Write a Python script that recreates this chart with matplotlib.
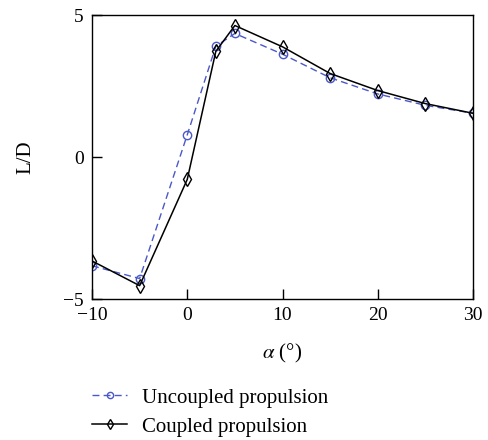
import matplotlib
matplotlib.use("Agg")
import matplotlib.pyplot as plt

# Angle of attack (deg) and lift-to-drag ratio
alpha = [-10, -5, 0, 3, 5, 10, 15, 20, 25, 30]
ld_uncoupled = [-3.83, -4.28, 0.78, 3.90, 4.35, 3.62, 2.79, 2.22, 1.82, 1.54]
ld_coupled = [-3.66, -4.53, -0.79, 3.72, 4.63, 3.88, 2.94, 2.34, 1.88, 1.54]

x_ticks = [-10, 0, 10, 20, 30]
y_ticks = [-5, 0, 5]

plt.rcParams["font.family"] = ["Liberation Serif", "DejaVu Serif"]
plt.rcParams["mathtext.fontset"] = "stix"
FS = 14

fig = plt.figure(figsize=(4.89, 4.40), dpi=100)
ax = fig.add_axes([92 / 489, 1 - 299 / 440, 381 / 489, 284 / 440])

blue = "#4a58c8"
ax.plot(alpha, ld_uncoupled, color=blue, linestyle=(0, (5, 3)), linewidth=1.0,
        marker="o", markersize=6, markerfacecolor="none", markeredgecolor=blue,
        markeredgewidth=1.0, label="Uncoupled propulsion")
ax.plot(alpha, ld_coupled, color="black", linestyle="-", linewidth=1.1,
        marker="d", markersize=7, markerfacecolor="none", markeredgecolor="black",
        markeredgewidth=1.0, label="Coupled propulsion")

ax.set_xlim(-10, 30)
ax.set_ylim(-5, 5)
ax.set_xticks(x_ticks)
ax.set_yticks(y_ticks)
ax.set_xticklabels(["\u221210", "0", "10", "20", "30"])
ax.set_yticklabels(["\u22125", "0", "5"])
ax.tick_params(direction="in", length=7, width=1.0, labelsize=FS, pad=6,
               top=False, right=False)
for s in ax.spines.values():
    s.set_linewidth(1.0)

ax.set_xlabel(r"$\alpha$ (°)", fontsize=FS + 1, labelpad=13)
ax.set_ylabel("L/D", fontsize=FS + 1, labelpad=20)

fig.legend(loc="upper left", bbox_to_anchor=(92 / 489, 1 - 388 / 440),
           frameon=False, fontsize=15, handlelength=1.7, handletextpad=0.7,
           labelspacing=0.45, borderpad=0, borderaxespad=0, markerscale=0.75)

fig.savefig("out.png", dpi=100)
